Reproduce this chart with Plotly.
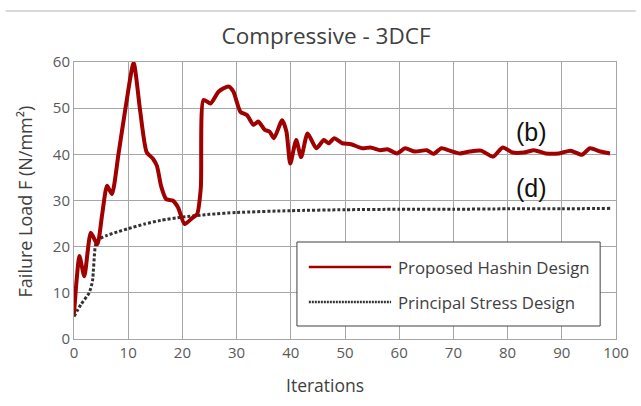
import plotly.graph_objects as go

# ---- data ----
hashin_x = [0, 0.5, 1.0, 1.9, 3.1, 4.3, 5.2, 6.1, 7.0, 8.2, 9.5, 11.0, 12.2, 13.4, 14.6, 15.3,
            16.1, 17.0, 18.2, 19.2, 20.4, 21.9, 22.7, 23.4, 23.9, 25.2, 26.7, 28.5, 29.4, 30.7,
            31.9, 33.1, 34.0, 35.2, 36.1, 36.9, 38.4, 39.2, 39.9, 41.0, 41.9, 43.1, 44.7, 46.1,
            47.0, 48.0, 49.5, 51.1, 53.2, 54.7, 56.5, 57.8, 59.6, 61.1, 62.9, 65.1, 66.3, 67.8,
            69.3, 71.2, 73.0, 75.1, 77.3, 79.1, 80.9, 83.0, 84.9, 87.0, 89.5, 91.6, 93.7, 95.2,
            97.1, 98.9]
hashin_y = [5.5, 13.0, 18.0, 13.6, 23.0, 20.5, 27.0, 33.2, 31.4, 40.0, 50.0, 59.8, 49.5, 40.5, 39.0, 37.5,
            33.0, 30.3, 30.0, 28.5, 24.9, 26.3, 27.0, 32.8, 51.8, 51.0, 53.6, 54.7, 53.6, 49.2,
            48.5, 46.4, 47.1, 45.3, 44.9, 43.5, 47.4, 44.9, 38.0, 43.1, 39.4, 44.5, 41.3, 43.1,
            42.4, 43.5, 42.4, 42.2, 41.3, 41.5, 40.9, 41.1, 40.2, 41.3, 40.6, 40.9, 40.1, 41.3,
            40.8, 40.2, 40.6, 40.8, 39.5, 41.5, 40.4, 40.4, 40.9, 40.2, 40.2, 40.8, 39.9, 41.3,
            40.6, 40.2]

principal_x = [0, 1.3, 2.8, 3.4, 4.0, 4.6, 6, 8, 10, 13, 16, 20, 25, 30, 40, 50, 60, 70, 80, 90, 99]
principal_y = [4.9, 7.5, 10.0, 12.5, 20.5, 21.6, 22.4, 23.2, 23.9, 24.9, 25.7, 26.4, 27.0, 27.4,
               27.8, 28.0, 28.1, 28.1, 28.2, 28.2, 28.3]

series_names = ["Proposed Hashin Design", "Principal Stress Design"]
curve_labels = ["(b)", "(d)"]
label_pos = [(84.5, 44.8), (84.5, 32.7)]

title_text = "Compressive - 3DCF"
x_title = "Iterations"
y_title = "Failure Load F (N/mm²)"

RED = "#A00000"
DOT = "#333333"
FONT = "Open Sans"
GRID = "#A6A6A6"

fig = go.Figure()
fig.add_trace(go.Scatter(x=principal_x, y=principal_y, mode="lines", name=series_names[1],
                         line=dict(color=DOT, width=3, dash="3px,2px", shape="spline", smoothing=0.6),
                         showlegend=False))
fig.add_trace(go.Scatter(x=hashin_x, y=hashin_y, mode="lines", name=series_names[0],
                         line=dict(color=RED, width=4, shape="spline", smoothing=0.6),
                         showlegend=False))

# manual legend (paper coordinates)
L, R, T, B = 74, 621, 62, 339
def px(v):
    return (v - L) / (R - L)
def py(v):
    return (B - v) / (B - T)

shapes = [
    dict(type="rect", xref="paper", yref="paper", x0=px(299), x1=px(605), y0=py(326), y1=py(242),
         line=dict(color="#404040", width=1), fillcolor="white", layer="above"),
    dict(type="line", xref="paper", yref="paper", x0=px(311), x1=px(394), y0=py(267), y1=py(267),
         line=dict(color=RED, width=2.5), layer="above"),
    dict(type="line", xref="paper", yref="paper", x0=px(311), x1=px(394), y0=py(302), y1=py(302),
         line=dict(color=DOT, width=2.5, dash="2px,1px"), layer="above"),
    dict(type="line", xref="paper", yref="paper", x0=px(5), x1=px(641), y0=py(11), y1=py(11),
         line=dict(color="#D9D9D9", width=2), layer="above"),
]
annotations = [
    dict(xref="paper", yref="paper", x=px(399), y=py(267), xanchor="left", yanchor="middle",
         text=series_names[0], showarrow=False, font=dict(family=FONT, size=16.8, color="#404040")),
    dict(xref="paper", yref="paper", x=px(399), y=py(302), xanchor="left", yanchor="middle",
         text=series_names[1], showarrow=False, font=dict(family=FONT, size=16.8, color="#404040")),
    dict(xref="paper", yref="paper", x=px(327), y=py(385), xanchor="center", yanchor="middle",
         text=x_title, showarrow=False, font=dict(family=FONT, size=17.5, color="#404040")),
    dict(xref="paper", yref="paper", x=px(25), y=py(201), xanchor="center", yanchor="middle",
         text=y_title, textangle=-90, showarrow=False,
         font=dict(family=FONT, size=18, color="#404040")),
]
for lab, (lx, ly) in zip(curve_labels, label_pos):
    annotations.append(dict(x=lx, y=ly, xref="x", yref="y", text=lab, showarrow=False,
                            xanchor="center", yanchor="middle",
                            font=dict(family="Liberation Sans", size=25, color="#111111")))

fig.update_layout(
    width=641, height=406,
    margin=dict(l=L, r=641 - R, t=T, b=406 - B),
    paper_bgcolor="white", plot_bgcolor="white",
    title=dict(text=title_text, x=326 / 641, xanchor="center", y=1 - 36 / 406, yanchor="middle",
               font=dict(family=FONT, size=22.5, color="#404040")),
    xaxis=dict(range=[0, 100], dtick=10, tick0=0, showgrid=True, gridcolor=GRID, gridwidth=1,
               showline=True, linecolor=GRID, linewidth=1, mirror=True, zeroline=False,
               ticks="", tickfont=dict(family=FONT, size=15, color="#595959")),
    yaxis=dict(range=[0, 60], dtick=10, tick0=0, showgrid=True, gridcolor=GRID, gridwidth=1,
               showline=True, linecolor=GRID, linewidth=1, mirror=True, zeroline=False,
               ticks="", tickfont=dict(family=FONT, size=15, color="#595959")),
    shapes=shapes, annotations=annotations,
)

fig.write_html("out.html")
